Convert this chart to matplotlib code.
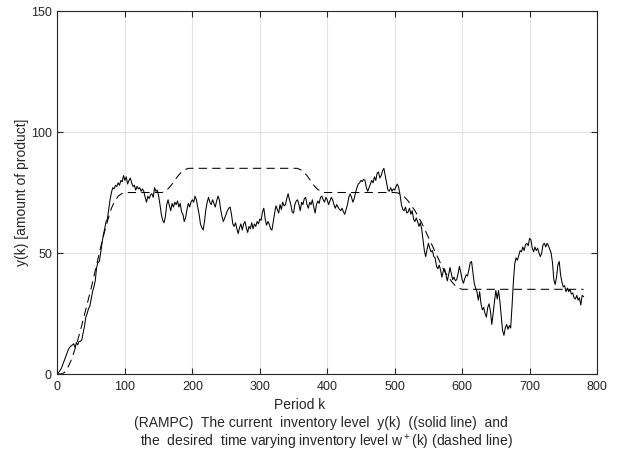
import numpy as np
import matplotlib
matplotlib.use("Agg")
import matplotlib.pyplot as plt

plt.rcParams['font.family'] = ['Liberation Sans', 'DejaVu Sans']
plt.rcParams['mathtext.fontset'] = 'custom'
plt.rcParams['mathtext.rm'] = 'Liberation Sans'

# Current inventory level y(k), sampled every 2 periods
k_step = 2
inventory = [
    0, 0.8, 1.5, 2.5, 4, 5.5, 7, 8.5, 10, 11, 11.5, 12, 12.5, 11, 13, 12, 13.5, 13.5,
    14, 17, 19.5, 23.5, 25, 27, 28, 31, 34, 36, 38.5, 44, 46, 46.5, 50, 54, 57.5, 60,
    63, 64, 68, 72, 75, 77, 76.5, 78, 77.5, 79, 78, 80, 79.5, 82, 80, 81.5, 78.5, 80,
    81, 79, 77.5, 78, 76, 77.5, 76.5, 77, 75.5, 76.5, 75.5, 73, 71, 73.5, 72.5, 74, 74.5,
    73, 77, 75.5, 76, 73.5, 70, 66, 63.5, 62.5, 65, 70, 72, 69.5, 67.5, 70.5, 69, 71,
    70, 71.5, 69, 70.5, 67, 66, 63, 64.5, 68, 70.5, 69, 71, 72, 71, 73.5, 72, 69, 66,
    62, 60.5, 59.5, 63, 68, 71, 73, 71, 70, 72, 70.5, 69, 71.5, 73.5, 72, 68, 65, 63,
    64.5, 66, 67.5, 68.5, 69, 66, 62, 61, 62.5, 60, 58, 60.5, 62, 59.5, 62, 63, 60.5,
    58.5, 61, 60, 62.5, 60, 62, 61, 63, 62, 64, 63.5, 67, 68.5, 64, 61.5, 63, 62, 60,
    59.5, 63, 66.5, 69.5, 68, 66.5, 70, 68, 71, 69.5, 70, 72.5, 74.5, 72, 70, 67, 66.5,
    70, 71.5, 72, 70, 67.5, 71, 70, 72.5, 73, 70, 68.5, 71, 70, 72, 69, 66.5, 70, 71.5,
    70.5, 73, 73.5, 72, 71, 73, 72, 70, 71.5, 73, 72, 70, 68.5, 70, 69, 68, 67.5, 68.5,
    67, 66, 68, 70, 73, 74.5, 73, 71, 72.5, 75, 77, 78.5, 79, 80, 79.5, 80.5, 80, 77,
    75.5, 77, 78.5, 80, 79, 81.5, 80, 83, 83.5, 81, 82, 84, 85, 82, 79, 76, 75.5, 77,
    75.5, 76.5, 76, 77.5, 78.5, 77, 74, 70, 68, 67.5, 69, 66.5, 67, 68.5, 66, 67.5, 64,
    63, 64.5, 63, 61, 62.5, 60, 55.5, 51, 48.5, 51.5, 54, 52, 50.5, 51, 48.5, 48, 44.5,
    43.5, 45, 43, 40, 42.5, 43.5, 41, 38.5, 41, 44, 41.5, 39, 40, 38.5, 39, 41.5, 44.5,
    42, 39, 37.5, 39.5, 41, 40.5, 43, 46, 46.5, 42, 37.5, 35.5, 34, 30.5, 34, 29, 26.5,
    27.5, 25, 23.5, 27.5, 29, 26, 20.5, 25, 30, 34.5, 31, 34.5, 30, 24, 18, 16, 19,
    20.5, 18.5, 20, 19, 28, 38, 45.5, 48, 47, 49, 51, 50.5, 52.5, 51, 53.5, 54, 53, 56,
    55.5, 52, 50.5, 52.5, 51, 52, 50, 48.5, 50, 53.5, 54, 52.5, 54, 53, 51.5, 50, 46,
    39, 37, 40, 45, 46.5, 41, 38, 36, 36.5, 34, 35.5, 34, 35, 33, 33.5, 31.5, 31, 32.5,
    30.5, 31.5, 28.5, 32.5, 32,
]
periods = np.arange(len(inventory)) * k_step

# Desired time varying inventory level w+(k), given at breakpoints
ref_periods = [0, 5, 10, 15, 20, 25, 30, 35, 40, 45, 50, 55, 60, 65, 70, 75, 80, 85, 90,
               95, 100, 155, 160, 165, 170, 175, 180, 185, 190, 195, 355, 360, 365, 370,
               375, 380, 385, 390, 395, 500, 505, 510, 515, 520, 525, 530, 535, 540, 545,
               550, 555, 560, 565, 570, 575, 580, 585, 590, 595, 600, 780]
ref_level = [0, 0, 0.5, 2.5, 5.5, 9.5, 14, 19, 24.5, 30, 35.5, 41.5, 47.5, 53.5, 59, 64,
             68.5, 71.5, 73.5, 74.5, 75, 75, 75.5, 76.8, 78.5, 80.5, 82.3, 83.7, 84.6, 85,
             85, 84.5, 83.5, 82, 80, 78, 76.5, 75.5, 75, 75, 74.8, 74, 73, 71.5, 69.5, 67.5,
             65, 62.5, 59.5, 56.5, 53.5, 50.5, 47.5, 44.5, 42, 40, 38, 36.5, 35.5, 35, 35]

x_ticks = [0, 100, 200, 300, 400, 500, 600, 700, 800]
y_ticks = [0, 50, 100, 150]

fig = plt.figure(figsize=(6.22, 4.55), dpi=100)
ax = fig.add_axes([0.0924, 0.178, 0.8674, 0.7978])

ax.plot(ref_periods, ref_level, color='black', lw=0.75, linestyle=(0, (8, 5)))
ax.plot(periods, inventory, color='black', lw=0.75)

ax.set_xlim(0, 800)
ax.set_ylim(0, 150)
ax.set_xticks(x_ticks)
ax.set_yticks(y_ticks)
ax.grid(True, color='#e3e3e3', lw=0.8)
ax.set_axisbelow(True)
for s in ax.spines.values():
    s.set_color('#262626')
    s.set_linewidth(0.8)
ax.tick_params(direction='in', length=4, width=0.8, color='#262626', top=True,
               right=True, labelsize=9, labelcolor='#262626', pad=4)
ax.tick_params(axis='x', pad=5)

txt = dict(fontsize=10, color='#262626', ha='center', va='center')
fig.text(300 / 622, 1 - 405 / 455, 'Period k', **txt)
fig.text(320.5 / 622, 1 - 423 / 455,
         '(RAMPC)  The current  inventory level  y(k)  ((solid line)  and', **txt)
fig.text(326.5 / 622, 1 - 442.5 / 455,
         'the  desired  time varying inventory level w$^+$(k) (dashed line)', **txt)
fig.text(22 / 622, 1 - 192.5 / 455, 'y(k) [amount of product]', rotation=90, **txt)

fig.savefig('out.png', dpi=100)
